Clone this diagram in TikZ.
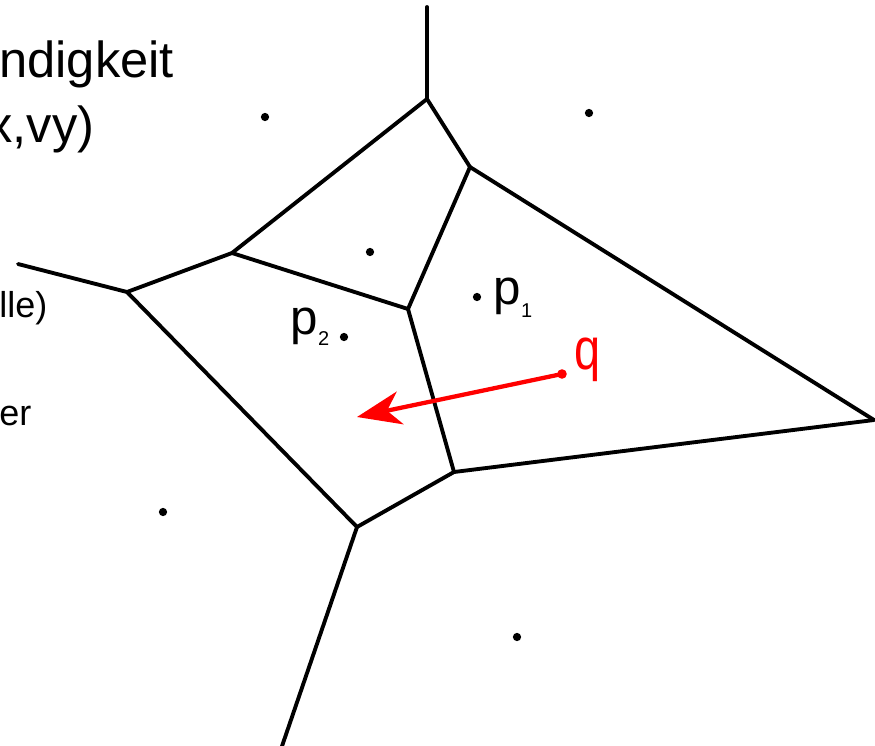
\documentclass[tikz,border=0pt]{standalone}
\usepackage{fontspec}
\setmainfont{Liberation Sans}
\usetikzlibrary{arrows.meta}
\definecolor{EdgeInk}{HTML}{000000}
\definecolor{QueryRed}{HTML}{FF0000}

\begin{document}
\begin{tikzpicture}[
  x=0.75pt,y=-0.75pt,
  edge/.style={draw=EdgeInk,line width=2.9pt,line cap=round,line join=round},
  site/.style={circle,fill=EdgeInk,inner sep=0pt,minimum size=6.2pt},
  qsite/.style={circle,fill=QueryRed,inner sep=0pt,minimum size=7.2pt},
  move/.style={-{Stealth[length=33pt,width=25pt,inset=10pt]},draw=QueryRed,
    line width=3.2pt},
  bigtext/.style={anchor=base west,inner sep=0pt,
    font=\fontsize{38}{38}\selectfont},
  smalltext/.style={anchor=base west,inner sep=0pt,
    font=\fontsize{27}{27}\selectfont},
  plabel/.style={anchor=base west,inner sep=0pt,
    font=\fontsize{37}{37}\selectfont},
  psub/.style={anchor=base west,inner sep=0pt,
    font=\fontsize{15}{15}\selectfont}
]
  \fill[white] (0,0) rectangle (875,746);
  \useasboundingbox (0,0) rectangle (875,746);

  % cut-off text at the left
  \node[bigtext] (speedA) at (-1,77) {ndigkeit};
  \node[bigtext] (speedB) at (-13,142) {x,vy)};
  \node[smalltext] (noteA) at (-1,317) {lle)};
  \node[smalltext] (noteB) at (-1,425) {er};

  % Voronoi vertices
  \coordinate (vtop) at (427,7);
  \coordinate (va) at (427,99);
  \coordinate (vb) at (470,167);
  \coordinate (vc) at (232,253);
  \coordinate (vd) at (127,292);
  \coordinate (vleft) at (18,264);
  \coordinate (ve) at (408,309);
  \coordinate (vf) at (454,472);
  \coordinate (vg) at (357,527);
  \coordinate (vbot) at (280,752);
  \coordinate (vh) at (874,420);

  \draw[edge] (vtop) -- (va);
  \draw[edge] (va) -- (vb);
  \draw[edge] (va) -- (vc);
  \draw[edge] (vleft) -- (vd);
  \draw[edge] (vc) -- (vd);
  \draw[edge] (vc) -- (ve);
  \draw[edge] (ve) -- (vb);
  \draw[edge] (ve) -- (vf);
  \draw[edge] (vd) -- (vg);
  \draw[edge] (vg) -- (vf);
  \draw[edge] (vg) -- (vbot);
  \draw[edge] (vb) -- (vh);
  \draw[edge] (vf) -- (vh);

  % sites
  \node[site] (s1) at (265,117) {};
  \node[site] (s2) at (589,113) {};
  \node[site] (s3) at (370,252) {};
  \node[site] (p1) at (477,297) {};
  \node[site] (p2) at (344,337) {};
  \node[site] (s6) at (163,512) {};
  \node[site] (s7) at (517,637) {};

  \node[plabel] (p1lbl) at (493,304) {p};
  \node[psub] (p1sub) at ([shift={(0,13)}]p1lbl.base east) {1};
  \node[plabel] (p2lbl) at (290,334) {p};
  \node[psub] (p2sub) at ([shift={(0,11)}]p2lbl.base east) {2};

  % query point and its move
  \node[qsite] (q) at (562,374) {};
  \coordinate (qtip) at (357,417);
  \draw[move] (q.center) -- (qtip);
  \node[anchor=base west,inner sep=0pt,text=QueryRed,
    font=\fontsize{44}{44}\selectfont] (qlbl) at (574,369)
    {\scalebox{0.8}[1]{q}};
\end{tikzpicture}
\end{document}
